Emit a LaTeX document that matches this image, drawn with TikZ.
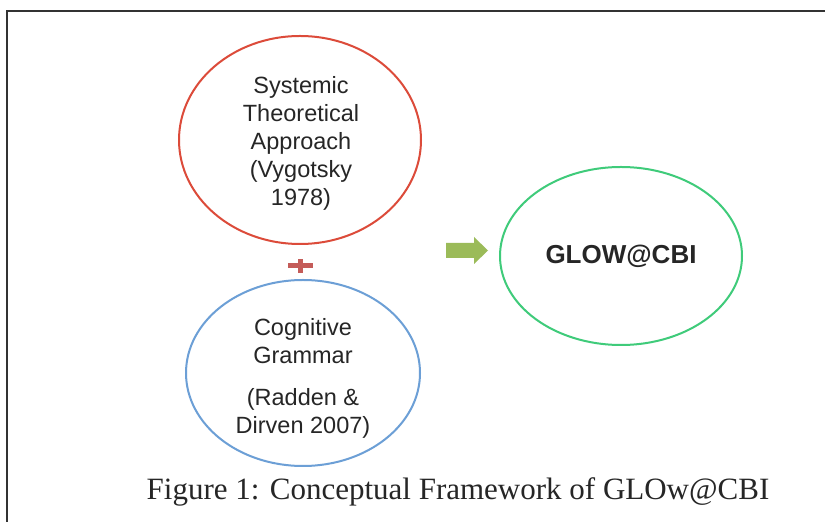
\documentclass[tikz,border=0pt]{standalone}
\usepackage{fontspec}
\setmainfont{Liberation Sans}
\newfontfamily\capfont{Liberation Serif}
\usetikzlibrary{shapes.geometric}
\definecolor{redc}{HTML}{DC4B3A}
\definecolor{bluec}{HTML}{6C9FD6}
\definecolor{greenc}{HTML}{3FCB7A}
\definecolor{arrowc}{HTML}{9BBB59}
\definecolor{plusc}{HTML}{C45C59}
\definecolor{txtc}{HTML}{262626}
\tikzset{
  oval/.style={ellipse, line width=2pt, inner sep=0pt},
  ovaltext/.style={text=txtc, align=center, font=\fontsize{23.5}{28}\selectfont, inner sep=0pt},
}
\begin{document}
\begin{tikzpicture}[x=1pt,y=1pt]
\useasboundingbox (0,0) rectangle (825,522);
\fill[white] (0,0) rectangle (825,522);
\draw[line width=2.2pt, black!80] (7,0) -- (7,511) -- (825,511);
\node[oval, draw=redc, minimum width=242pt, minimum height=208pt] (sys) at (300,382) {};
\node[ovaltext] (systxt) at (301,379) {Systemic\\Theoretical\\Approach\\(Vygotsky\\1978)};
\node[oval, draw=bluec, minimum width=234pt, minimum height=186pt] (cog) at (303,149) {};
\node[ovaltext] (cogtxt) at (303,144) {Cognitive\\Grammar\\[14pt](Radden \&\\Dirven 2007)};
\node[oval, draw=greenc, minimum width=242pt, minimum height=178pt, text=txtc, font=\fontsize{26}{28}\selectfont\bfseries] (glow) at (621,266) {GLOW@CBI};
\fill[plusc] (288,254) rectangle (313,259);
\fill[plusc] (298,249) rectangle (303,263);
\fill[arrowc] (446,264) -- (474,264) -- (474,258) -- (488,271.5) -- (474,285) -- (474,279) -- (446,279) -- cycle;
\node[font=\capfont\fontsize{31}{31}\selectfont, text=txtc] (cap) at (458,30) {Figure 1: Conceptual Framework of GLOw@CBI};
\end{tikzpicture}
\end{document}
